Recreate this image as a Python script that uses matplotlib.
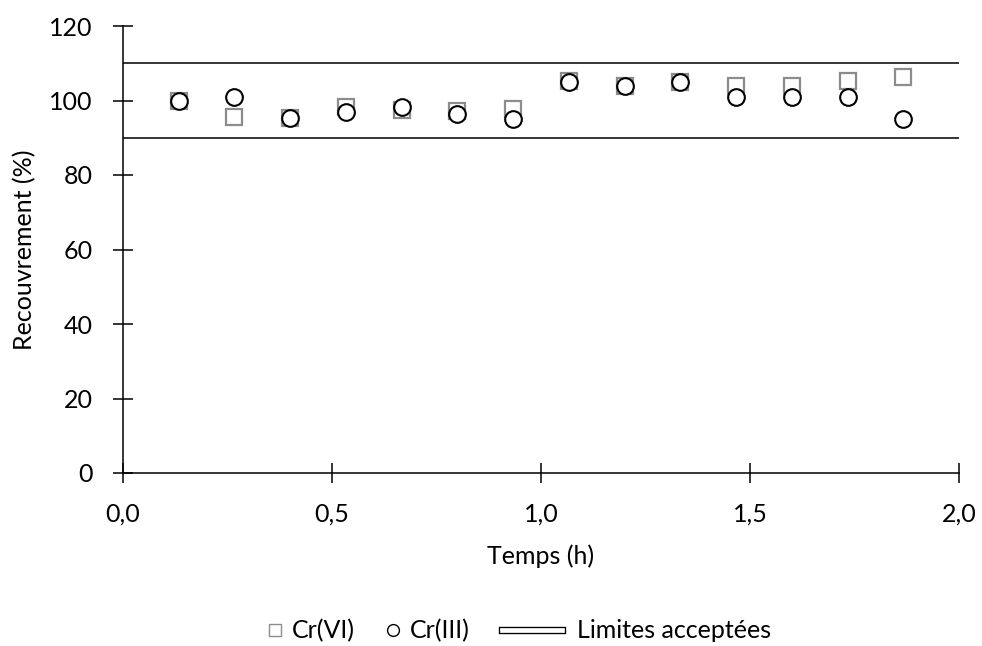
import numpy as np
import matplotlib
matplotlib.use("Agg")
import matplotlib.pyplot as plt
import matplotlib.ticker as ticker
import matplotlib.patheffects as pe
from matplotlib.lines import Line2D

# temps de prélèvement (h), toutes les 8 minutes
temps = [8 * k / 60 for k in range(1, 15)]
cr6 = [100.0, 95.6, 95.2, 98.2, 97.4, 97.3, 97.8, 105.2, 103.9, 104.9, 104.0, 104.0, 105.3, 106.4]
cr3 = [100.0, 100.9, 95.4, 96.8, 98.2, 96.3, 95.1, 105.0, 104.0, 104.9, 101.0, 101.0, 101.0, 95.0]
limites = [90, 110]
x_range = [0.0, 2.0]

plt.rcParams['font.family'] = ['Lato', 'DejaVu Sans']
plt.rcParams['font.size'] = 18

W, H = 982, 646
fig = plt.figure(figsize=(W / 100, H / 100), dpi=100)
ax = fig.add_axes([123 / W, 1 - 473 / H, (959 - 123) / W, (473 - 26) / H])

for lim in limites:
    ax.plot(x_range, [lim, lim], color='black', lw=1.1, zorder=1)

ax.plot(temps, cr6, ls='none', marker='s', ms=12, mfc='white', mec='#8c8c8c', mew=1.6, zorder=2)
ax.plot(temps, cr3, ls='none', marker='o', ms=12, mfc='white', mec='black', mew=1.5, zorder=3)

ax.set_xlim(0, 2.0)
ax.set_ylim(0, 120)
ax.set_xticks([0, 0.5, 1.0, 1.5, 2.0])
ax.set_yticks(range(0, 121, 20))
ax.xaxis.set_major_formatter(ticker.FuncFormatter(lambda v, p: f"{v:.1f}".replace('.', ',')))
ax.tick_params(direction='inout', length=14, width=1.1)
ax.tick_params(axis='y', pad=15)
ax.tick_params(axis='x', pad=14)
for s in ['top', 'right']:
    ax.spines[s].set_visible(False)
for s in ['left', 'bottom']:
    ax.spines[s].set_linewidth(1.1)

ax.set_xlabel('Temps (h)', labelpad=14)
ax.set_ylabel('Recouvrement (%)', labelpad=9)

# légende en trois morceaux pour garder l'espacement d'Excel
y_leg = 1 - 631 / H
h_sq = Line2D([], [], ls='none', marker='s', ms=8.5, mfc='white', mec='#8c8c8c', mew=1.0)
h_ci = Line2D([], [], ls='none', marker='o', ms=8.5, mfc='white', mec='black', mew=1.0)
h_li = Line2D([], [], color='white', lw=3.4,
              path_effects=[pe.Stroke(linewidth=5.3, foreground='black'), pe.Normal()])
entries = [(h_sq, 'Cr(VI)', 268.5, 0.5, 0.43),
           (h_ci, 'Cr(III)', 386.5, 0.5, 0.43),
           (h_li, 'Limites acceptées', 502, 2.4, 0.6)]
for h, lab, x0, hl, pad in entries:
    fig.legend([h], [lab], loc='center left', bbox_to_anchor=(x0 / W, y_leg),
               frameon=False, borderpad=0, borderaxespad=0,
               handlelength=hl, handletextpad=pad)

fig.savefig('out.png', dpi=100)
